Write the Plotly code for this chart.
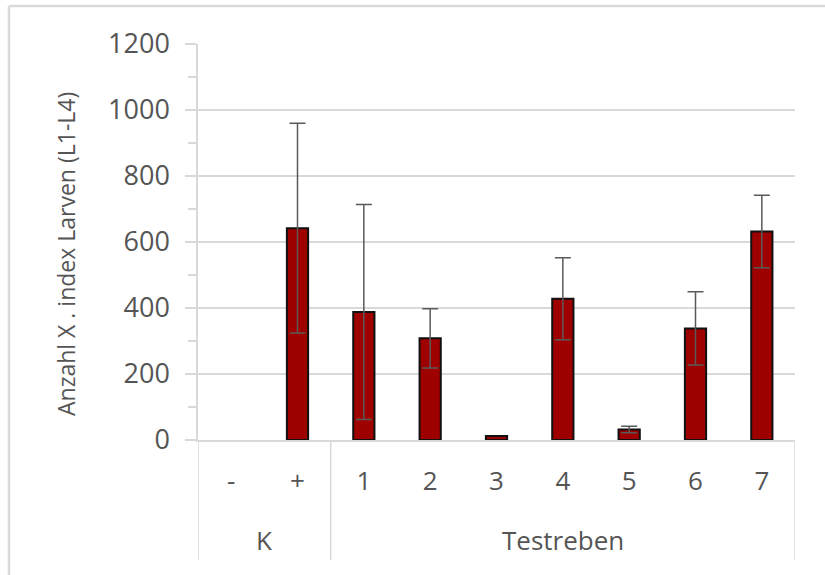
import plotly.graph_objects as go

# Larval counts per vine (mean with standard deviation)
categories = ["-", "+", "1", "2", "3", "4", "5", "6", "7"]
groups = ["K", "K", "Testreben", "Testreben", "Testreben", "Testreben",
          "Testreben", "Testreben", "Testreben"]
means = [0, 642, 388, 308, 12, 428, 32, 338, 632]
sds = [None, 318, 326, 90, 0, 124, 10, 111, 110]

W, H = 825, 575
L, R, T, B = 198, 30, 44, 135
plot_w = W - L - R
plot_h = H - T - B

def px_x(p):
    return (p - L) / plot_w

def px_y(p):
    return (H - B - p) / plot_h

grid = "#d9d9d9"
txt = "#555555"
font_family = "Open Sans"

# empty bars get no outline
outline = [2 if m > 0 else 0 for m in means]

fig = go.Figure()
fig.add_trace(go.Bar(
    x=categories, y=means, width=0.32,
    marker=dict(color="#9e0000", line=dict(color="#111111", width=outline)),
    hoverinfo="x+y",
))

# standard deviation whiskers only where a deviation exists
err_idx = [i for i, s in enumerate(sds) if s]
fig.add_trace(go.Scatter(
    x=[categories[i] for i in err_idx], y=[means[i] for i in err_idx],
    mode="markers", marker=dict(size=0.1, opacity=0),
    error_y=dict(type="data", array=[sds[i] for i in err_idx], visible=True,
                 color="#5a5a5a", thickness=1.5, width=8),
    hoverinfo="skip",
))

shapes = []
# group separators below the category axis
bottom = px_y(560)
bounds = [-0.5]
for i in range(1, len(groups)):
    if groups[i] != groups[i - 1]:
        bounds.append(i - 0.5)
bounds.append(len(groups) - 0.5)
for b in bounds:
    shapes.append(dict(type="line", xref="x", yref="paper", x0=b, x1=b,
                       y0=0, y1=bottom, line=dict(color=grid, width=1.5)))

# outer chart frame (top and left edges)
shapes.append(dict(type="line", xref="paper", yref="paper",
                   x0=px_x(9), x1=px_x(W), y0=px_y(6), y1=px_y(6),
                   line=dict(color=grid, width=2.5)))
shapes.append(dict(type="line", xref="paper", yref="paper",
                   x0=px_x(9), x1=px_x(9), y0=px_y(6), y1=px_y(H),
                   line=dict(color=grid, width=2.5)))

annotations = []
# group labels centred under their categories
seen = []
for g in groups:
    if g not in seen:
        seen.append(g)
for g in seen:
    idx = [i for i, gg in enumerate(groups) if gg == g]
    annotations.append(dict(x=sum(idx) / len(idx), y=px_y(540), xref="x", yref="paper",
                            text=g, showarrow=False, xanchor="center", yanchor="middle",
                            font=dict(family=font_family, size=26, color=txt)))

annotations.append(dict(x=px_x(66), y=px_y(254), xref="paper", yref="paper",
                        text="Anzahl X . index Larven (L1-L4)", textangle=-90,
                        showarrow=False, xanchor="center", yanchor="middle",
                        font=dict(family=font_family, size=23, color=txt)))

fig.update_layout(
    width=W, height=H,
    margin=dict(l=L, r=R, t=T, b=B),
    paper_bgcolor="white", plot_bgcolor="white",
    showlegend=False,
    shapes=shapes,
    annotations=annotations,
    xaxis=dict(type="category", categoryorder="array", categoryarray=categories,
               showline=True, linecolor=grid, linewidth=1.5,
               showgrid=False, ticks="", ticklabelstandoff=17,
               tickfont=dict(family=font_family, size=26, color=txt),
               range=[-0.5, len(categories) - 0.5]),
    yaxis=dict(range=[0, 1200], dtick=200, showgrid=True, gridcolor=grid, gridwidth=1.5,
               showline=True, linecolor=grid, linewidth=1.5,
               ticks="outside", ticklen=11, tickcolor=grid, tickwidth=1.5,
               zeroline=False, ticklabelstandoff=10,
               minor=dict(tick0=100, dtick=200, ticks="outside", ticklen=8,
                          tickcolor=grid, tickwidth=1.5, showgrid=False),
               tickfont=dict(family=font_family, size=27, color=txt)),
)

fig.write_html("out.html")
